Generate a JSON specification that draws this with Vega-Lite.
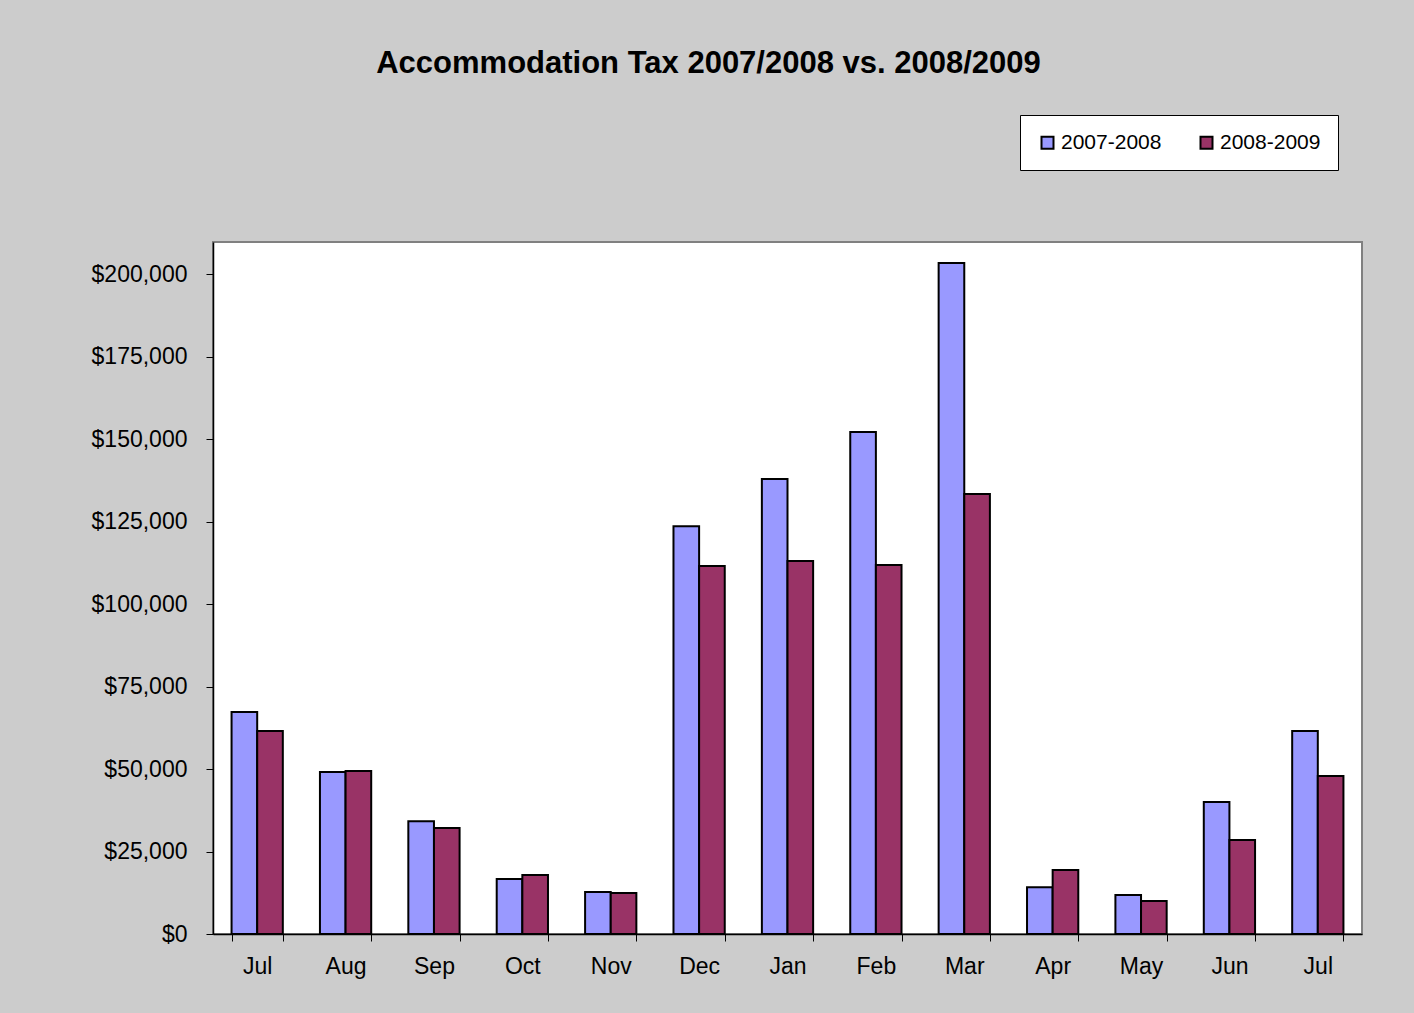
{
  "$schema": "https://vega.github.io/schema/vega-lite/v6.json",
  "autosize": "none",
  "width": 1149,
  "height": 692,
  "padding": {"left": 213, "top": 242, "right": 52, "bottom": 79},
  "background": "#CCCCCC",
  "config": {
    "font": "Liberation Sans",
    "view": {"fill": "white", "stroke": "#808080", "strokeWidth": 2}
  },
  "title": {
    "text": "Accommodation Tax 2007/2008 vs. 2008/2009",
    "fontSize": 31,
    "fontWeight": "bold",
    "font": "Liberation Sans",
    "color": "black",
    "anchor": "middle",
    "dx": -79,
    "offset": 35
  },
  "data": {
    "values": [
      {"month": "Jul", "season": "2007-2008", "tax": 67300},
      {"month": "Jul", "season": "2008-2009", "tax": 61500},
      {"month": "Aug", "season": "2007-2008", "tax": 49100},
      {"month": "Aug", "season": "2008-2009", "tax": 49400},
      {"month": "Sep", "season": "2007-2008", "tax": 34200},
      {"month": "Sep", "season": "2008-2009", "tax": 32100},
      {"month": "Oct", "season": "2007-2008", "tax": 16700},
      {"month": "Oct", "season": "2008-2009", "tax": 17900},
      {"month": "Nov", "season": "2007-2008", "tax": 12700},
      {"month": "Nov", "season": "2008-2009", "tax": 12400},
      {"month": "Dec", "season": "2007-2008", "tax": 123600},
      {"month": "Dec", "season": "2008-2009", "tax": 111500},
      {"month": "Jan", "season": "2007-2008", "tax": 137900},
      {"month": "Jan", "season": "2008-2009", "tax": 113000},
      {"month": "Feb", "season": "2007-2008", "tax": 152100},
      {"month": "Feb", "season": "2008-2009", "tax": 111800},
      {"month": "Mar", "season": "2007-2008", "tax": 203300},
      {"month": "Mar", "season": "2008-2009", "tax": 133300},
      {"month": "Apr", "season": "2007-2008", "tax": 14200},
      {"month": "Apr", "season": "2008-2009", "tax": 19400},
      {"month": "May", "season": "2007-2008", "tax": 11800},
      {"month": "May", "season": "2008-2009", "tax": 10000},
      {"month": "Jun", "season": "2007-2008", "tax": 40000},
      {"month": "Jun", "season": "2008-2009", "tax": 28500},
      {"month": "Jul ", "season": "2007-2008", "tax": 61500},
      {"month": "Jul ", "season": "2008-2009", "tax": 47900}
    ]
  },
  "mark": {"type": "bar", "stroke": "black", "strokeWidth": 2},
  "encoding": {
    "x": {
      "field": "month",
      "type": "nominal",
      "sort": null,
      "scale": {"paddingInner": 0.42, "paddingOuter": 0.21},
      "axis": {
        "title": null,
        "labelAngle": 0,
        "labelFontSize": 23,
        "labelColor": "black",
        "labelPadding": 14,
        "tickBand": "extent",
        "tickColor": "black",
        "tickSize": 7,
        "domainColor": "black",
        "domainWidth": 1.5,
        "grid": false
      }
    },
    "xOffset": {"field": "season", "type": "nominal"},
    "y": {
      "field": "tax",
      "type": "quantitative",
      "scale": {"domain": [0, 209700], "nice": false},
      "axis": {
        "title": null,
        "values": [0, 25000, 50000, 75000, 100000, 125000, 150000, 175000, 200000],
        "format": "$,.0f",
        "labelFontSize": 23,
        "labelColor": "black",
        "labelPadding": 19,
        "tickColor": "black",
        "tickSize": 7,
        "domainColor": "black",
        "domainWidth": 1.5,
        "grid": false
      }
    },
    "color": {
      "field": "season",
      "type": "nominal",
      "scale": {"domain": ["2007-2008", "2008-2009"], "range": ["#9999FF", "#993366"]},
      "legend": {
        "title": null,
        "orient": "none",
        "legendX": 807,
        "legendY": -127,
        "direction": "horizontal",
        "symbolType": "square",
        "symbolSize": 144,
        "symbolStrokeColor": "black",
        "symbolStrokeWidth": 2,
        "labelFontSize": 21,
        "labelColor": "black",
        "labelOffset": 3,
        "columnPadding": 34,
        "padding": 17,
        "fillColor": "white",
        "strokeColor": "black"
      }
    }
  }
}
